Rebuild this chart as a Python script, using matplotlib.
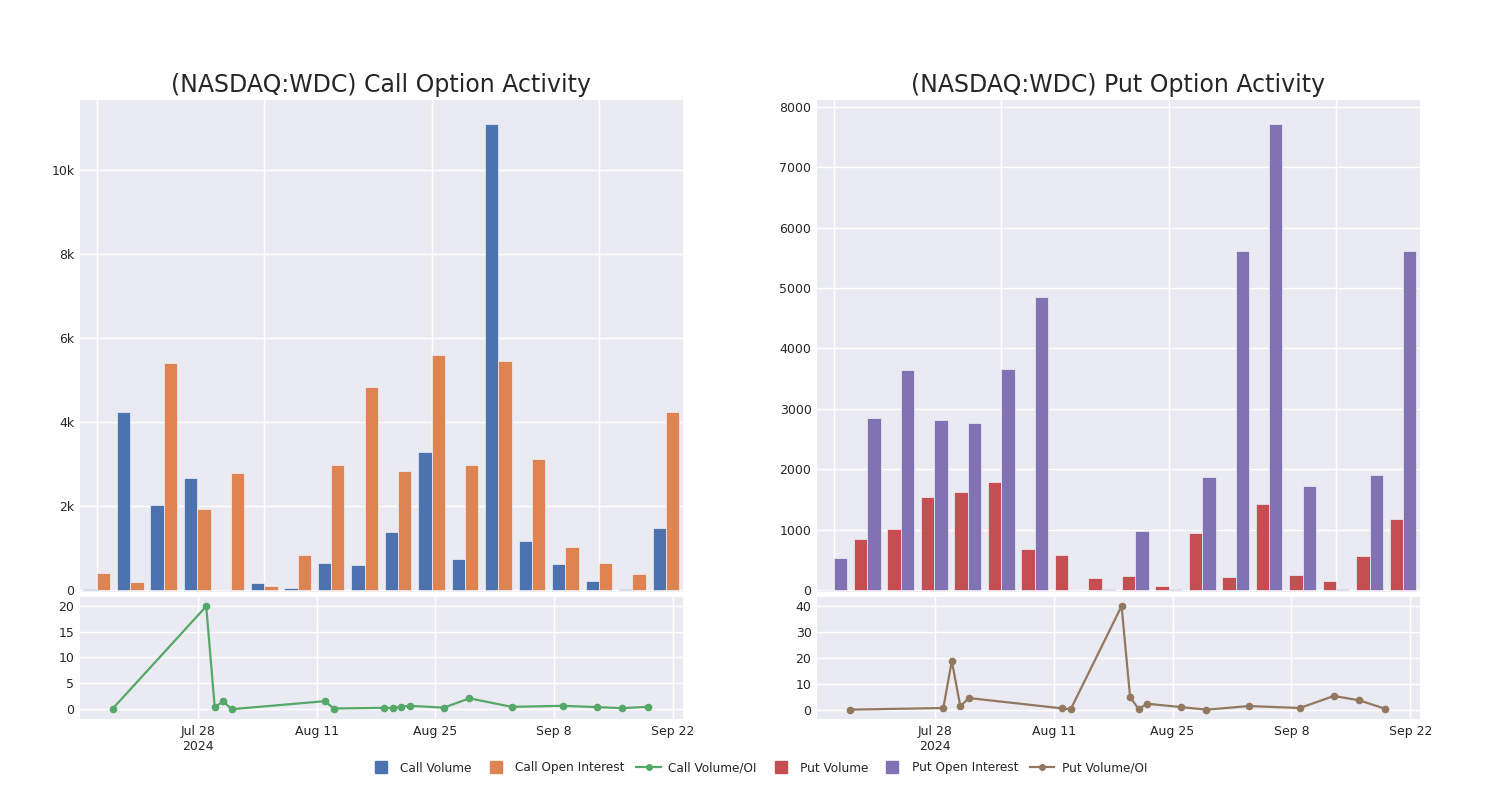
import datetime as dt
import matplotlib
matplotlib.use("Agg")
import matplotlib.pyplot as plt
from matplotlib.lines import Line2D

#############################################
# data

call_volume = [20, 4230, 2040, 2660, 0, 170, 60, 640, 600, 1390, 3280, 740, 11090, 1170, 620, 210, 30, 1480]
call_oi = [410, 200, 5400, 1930, 2800, 100, 830, 2990, 4830, 2830, 5600, 2990, 5450, 3120, 1020, 650, 390, 4250]
put_volume = [5, 856, 1021, 1551, 1628, 1783, 690, 585, 210, 232, 71, 949, 227, 1419, 260, 161, 568, 1187]
put_oi = [530, 2843, 3642, 2815, 2770, 3654, 4856, 5, 28, 977, 22, 1882, 5608, 7710, 1733, 17, 1915, 5613]

ratio_dates = ["2024-07-18", "2024-07-29", "2024-07-30", "2024-07-31", "2024-08-01",
               "2024-08-12", "2024-08-13", "2024-08-19", "2024-08-20", "2024-08-21",
               "2024-08-22", "2024-08-26", "2024-08-29", "2024-09-03", "2024-09-09",
               "2024-09-13", "2024-09-16", "2024-09-19"]
call_ratio = [0.13, 19.9, 0.4, 1.5, 0.0, 1.55, 0.13, 0.26, 0.2, 0.5, 0.65, 0.3, 2.1, 0.45, 0.65, 0.4, 0.2, 0.45]
put_ratio = [0.0, 0.65, 18.8, 1.3, 4.5, 0.5, 0.1, 40.0, 4.9, 0.26, 2.3, 1.0, 0.0, 1.4, 0.65, 5.3, 3.6, 0.4]

date_ticks = ["2024-07-28", "2024-08-11", "2024-08-25", "2024-09-08", "2024-09-22"]
date_labels = ["Jul 28\n2024", "Aug 11", "Aug 25", "Sep 8", "Sep 22"]

#############################################
# style

BLUE, ORANGE, GREEN = "#4C72B0", "#DD8452", "#55A868"
RED, PURPLE, BROWN = "#C44E52", "#8172B3", "#937860"
BG = "#EAEAF2"
TXT = "#262626"

plt.rcParams["font.family"] = ["DejaVu Sans"]
plt.rcParams["font.size"] = 9

fig = plt.figure(figsize=(15, 8), dpi=100)

days = [dt.datetime.strptime(d, "%Y-%m-%d") for d in ratio_dates]
tick_days = [dt.datetime.strptime(d, "%Y-%m-%d") for d in date_ticks]
x_lo = dt.datetime(2024, 7, 14, 3)
x_hi = dt.datetime(2024, 9, 23, 3)


def style_axes(ax):
    ax.set_facecolor(BG)
    for s in ax.spines.values():
        s.set_visible(False)
    ax.grid(True, color="white", linewidth=1.0)
    ax.set_axisbelow(True)
    ax.tick_params(length=0, colors=TXT, labelsize=9, pad=4)


def bar_panel(rect, vol, oi, c1, c2, ymax, fmt, title):
    ax = fig.add_axes(rect)
    style_axes(ax)
    idx = list(range(len(vol)))
    ax.bar([i - 0.2 for i in idx], vol, width=0.4, color=c1, edgecolor="#f0f0f8", linewidth=0.5)
    ax.bar([i + 0.2 for i in idx], oi, width=0.4, color=c2, edgecolor="#f0f0f8", linewidth=0.5)
    ax.set_xlim(-0.5, len(vol) - 0.5)
    ax.set_ylim(-ymax * 0.0035, ymax)
    ax.set_xticks([0, 5, 10, 15])
    ax.set_xticklabels([])
    ax.yaxis.set_major_formatter(plt.FuncFormatter(fmt))
    ax.set_title(title, fontsize=17, color=TXT, pad=6)
    return ax


def line_panel(rect, vals, color, ylim, yticks):
    ax = fig.add_axes(rect)
    style_axes(ax)
    ax.plot(days, vals, color=color, linewidth=1.6, marker="o", markersize=4.5)
    ax.set_xlim(x_lo, x_hi)
    ax.set_ylim(*ylim)
    ax.set_yticks(yticks)
    ax.set_xticks(tick_days)
    ax.set_xticklabels(date_labels)
    return ax


def kfmt(v, pos):
    return "0" if v == 0 else "%dk" % (v / 1000)


def plainfmt(v, pos):
    return "%d" % v


bar_panel([0.0533, 0.26, 0.4018, 0.615], call_volume, call_oi, BLUE, ORANGE, 11660,
          kfmt, "(NASDAQ:WDC) Call Option Activity")
bar_panel([0.5447, 0.26, 0.4018, 0.615], put_volume, put_oi, RED, PURPLE, 8110,
          plainfmt, "(NASDAQ:WDC) Put Option Activity")

line_panel([0.0533, 0.10125, 0.4018, 0.1525], call_ratio, GREEN, (-1.9, 21.7), [0, 5, 10, 15, 20])
line_panel([0.5447, 0.10125, 0.4018, 0.1525], put_ratio, BROWN, (-3.6, 43.5), [0, 10, 20, 30, 40])

#############################################
# legend

handles = [
    Line2D([], [], color=BLUE, marker="s", linestyle="none", markersize=9),
    Line2D([], [], color=ORANGE, marker="s", linestyle="none", markersize=9),
    Line2D([], [], color=GREEN, marker="o", linewidth=1.6, markersize=4),
    Line2D([], [], color=RED, marker="s", linestyle="none", markersize=9),
    Line2D([], [], color=PURPLE, marker="s", linestyle="none", markersize=9),
    Line2D([], [], color=BROWN, marker="o", linewidth=1.6, markersize=4),
]
labels = ["Call Volume", "Call Open Interest", "Call Volume/OI",
          "Put Volume", "Put Open Interest", "Put Volume/OI"]
leg = fig.legend(handles, labels, loc="center", bbox_to_anchor=(0.5053, 0.04), ncol=6,
                 frameon=False, fontsize=8.7, handlelength=2.0, columnspacing=1.0,
                 handletextpad=0.6)
for t in leg.get_texts():
    t.set_color(TXT)

fig.savefig("out.png", dpi=100)
